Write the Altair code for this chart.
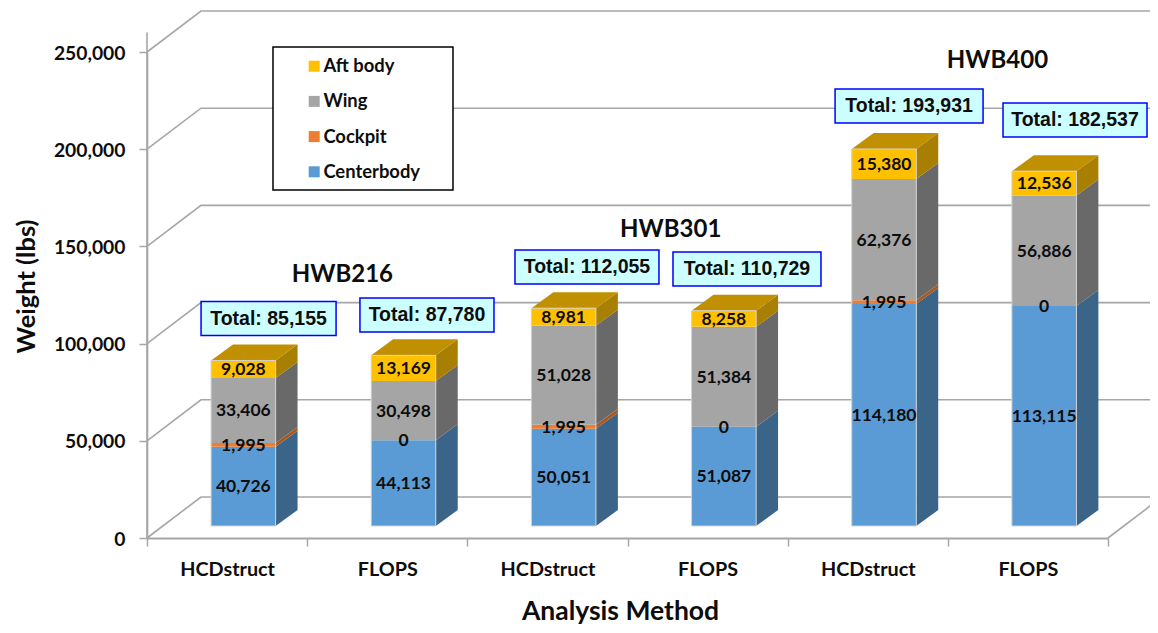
import altair as alt
import pandas as pd

methods = ["HCDstruct", "FLOPS", "HCDstruct", "FLOPS", "HCDstruct", "FLOPS"]
series = ["Centerbody", "Cockpit", "Wing", "Aft body"]
centerbody = [40726, 44113, 50051, 51087, 114180, 113115]
cockpit = [1995, 0, 1995, 0, 1995, 0]
wing = [33406, 30498, 51028, 51384, 62376, 56886]
aft_body = [9028, 13169, 8981, 8258, 15380, 12536]
totals = [85155, 87780, 112055, 110729, 193931, 182537]
group_names = ["HWB216", "HWB301", "HWB400"]
group_x = [1.22, 3.27, 5.31]
group_y = [135500, 158500, 245500]
box_x = [0.759, 1.748, 2.747, 3.746, 4.758, 5.794]
box_y = [112900, 114700, 139400, 138400, 222200, 215000]
box_w = [0.843, 0.837, 0.899, 0.924, 0.924, 0.899]

fill_front = ["#5b9bd5", "#ed7d31", "#a5a5a5", "#ffc000"]
fill_side = ["#3a6488", "#a65a22", "#696969", "#a87f00"]
fill_top = "#c09000"
grid_color = "#a6a6a6"
ink = "#0d0d0d"
face_font = "Lato"

# oblique projection, in data units
WALL_DX, WALL_DY = 0.337, 21090
BAR_DX, BAR_DY = 0.137, 8230
BAR_OFF_X, BAR_OFF_Y, BAR_W = 0.4, 6173, 0.403
BOX_H = 8750

xs = alt.Scale(domain=[0, 6], nice=False, zero=False)
ys = alt.Scale(domain=[0, 250000], nice=False, zero=False)

x_axis = alt.Axis(
    values=[k / 2 for k in range(13)],
    labelExpr="datum.value % 1 ? " + str(methods) + "[floor(datum.value)] : ''",
    labelFont=face_font, labelFontWeight="bold", labelFontSize=19.8, labelColor=ink,
    labelPadding=13, labelOverlap=False, labelFlush=False, labelAngle=0, grid=False,
    tickSize=8, tickColor=grid_color, tickWidth=1.5,
    tickOpacity={"condition": {"test": "datum.value % 1", "value": 0}, "value": 1},
    domainColor=grid_color, domainWidth=2,
    titleFont=face_font, titleFontWeight="bold", titleFontSize=26.5, titleColor=ink,
    titleX=473, titleY=81, titleBaseline="alphabetic")
y_axis = alt.Axis(
    values=list(range(0, 300000, 50000)),
    labelExpr="format(datum.value, ',')",
    labelFont=face_font, labelFontWeight="bold", labelFontSize=19.3, labelColor=ink,
    labelPadding=14, labelOffset=1, grid=False, tickSize=8, tickColor=grid_color, tickWidth=1.5,
    domainColor=grid_color, domainWidth=1.6,
    titleFont=face_font, titleFontWeight="bold", titleFontSize=25.5, titleColor=ink,
    titleX=-113, titleY=234, titleBaseline="alphabetic")

X = lambda f: alt.X(f, type="quantitative", scale=xs, axis=x_axis, title="Analysis Method")
Y = lambda f: alt.Y(f, type="quantitative", scale=ys, axis=y_axis, title="Weight (lbs)", stack=None)

fronts, sides, tops, labels, outlines = [], [], [], [], []
values = [centerbody, cockpit, wing, aft_body]
for i in range(6):
    x0 = i + BAR_OFF_X
    x1 = x0 + BAR_W
    base = 0
    for s, name in enumerate(series):
        v = values[s][i]
        lo = base + BAR_OFF_Y
        hi = lo + v
        labels.append({"x": (x0 + x1) / 2, "y": (lo + hi) / 2, "t": f"{v:,}"})
        if v > 0:
            fronts.append({"x": x0, "x2": x1, "y": lo, "y2": hi, "series": name})
            pid = f"{i}-{s}"
            sides.append({"id": pid, "x": x1, "y": lo, "y2": hi, "c": fill_side[s]})
            sides.append({"id": pid, "x": x1 + BAR_DX, "y": lo + BAR_DY, "y2": hi + BAR_DY, "c": fill_side[s]})
        base += v
    t = base + BAR_OFF_Y
    u = t + BAR_DY
    outlines.append({"x": x0, "x2": x1, "y": BAR_OFF_Y, "y2": t})
    for px, a, b in [(x0, t, t), (x0 + BAR_DX, t, u), (x1, t, u), (x1 + BAR_DX, u, u)]:
        tops.append({"id": i, "x": px, "y": a, "y2": b})

grid_rows = []
for v in range(0, 300000, 50000):
    grid_rows += [
        {"id": v, "x": 0, "y": v},
        {"id": v, "x": WALL_DX, "y": v + WALL_DY},
        {"id": v, "x": 6 + WALL_DX, "y": v + WALL_DY},
    ]
right_edge = [{"x": 6, "y": 0}, {"x": 6 + WALL_DX, "y": WALL_DY}]
spine = [{"x": 0, "y": 0}, {"x": 0, "y": 260000}]

grid = alt.Chart(pd.DataFrame(grid_rows)).mark_line(color=grid_color, strokeWidth=1.6).encode(
    x=X("x"), y=Y("y"), detail="id:N", order="x:Q")
edge = alt.Chart(pd.DataFrame(right_edge)).mark_line(color=grid_color, strokeWidth=1.6).encode(x=X("x"), y=Y("y"))
spine_l = alt.Chart(pd.DataFrame(spine)).mark_line(color=grid_color, strokeWidth=1.6).encode(x=X("x"), y=Y("y"))

legend_box = alt.Chart(pd.DataFrame([{"x": (273 - 147) / 160.17, "x2": (453 - 147) / 160.17,
                                      "y": (538 - 190) / 1.944 * 1000, "y2": (538 - 47) / 1.944 * 1000}])).mark_rect(
    fill="white", stroke="black", strokeWidth=1.5).encode(x=X("x"), x2="x2:Q", y=Y("y"), y2="y2:Q")

side = alt.Chart(pd.DataFrame(sides)).mark_area(opacity=1).encode(
    x=X("x"), y=Y("y"), y2="y2:Q", detail="id:N", color=alt.Color("c:N", scale=None, legend=None))
top = alt.Chart(pd.DataFrame(tops)).mark_area(color=fill_top).encode(
    x=X("x"), y=Y("y"), y2="y2:Q", detail="id:N")
front = alt.Chart(pd.DataFrame(fronts)).mark_rect().encode(
    x=X("x"), x2="x2:Q", y=Y("y"), y2="y2:Q",
    color=alt.Color("series:N",
                    scale=alt.Scale(domain=series[::-1], range=fill_front[::-1]),
                    legend=alt.Legend(title=None, orient="none", legendX=158, legendY=5,
                                      symbolType="square", symbolSize=121, symbolStrokeWidth=0,
                                      rowPadding=16.2, labelFont=face_font, labelFontWeight="bold",
                                      labelFontSize=18.4, labelColor=ink, labelOffset=0, padding=0)))
outline = alt.Chart(pd.DataFrame(outlines)).mark_rect(filled=False, stroke="#d2d2d2", strokeWidth=1).encode(
    x=X("x"), x2="x2:Q", y=Y("y"), y2="y2:Q")
seg_text = alt.Chart(pd.DataFrame(labels)).mark_text(
    font=face_font, fontWeight="bold", fontSize=17.5, color=ink, baseline="middle", align="center", dy=1).encode(
    x=X("x"), y=Y("y"), text="t:N")

box_rows = [{"x": bx - w / 2, "x2": bx + w / 2, "y": by - BOX_H, "y2": by + BOX_H, "cx": bx, "cy": by,
             "t": f"Total: {t:,}"} for bx, by, w, t in zip(box_x, box_y, box_w, totals)]
boxes = alt.Chart(pd.DataFrame(box_rows)).mark_rect(fill="#ccffff", stroke="#0000ff", strokeWidth=1.5).encode(
    x=X("x"), x2="x2:Q", y=Y("y"), y2="y2:Q")
box_text = alt.Chart(pd.DataFrame(box_rows)).mark_text(
    font="Liberation Sans", fontWeight="bold", fontSize=19.5, color=ink, baseline="middle", align="center").encode(
    x=X("cx"), y=Y("cy"), text="t:N")
group_text = alt.Chart(pd.DataFrame({"x": group_x, "y": group_y, "t": group_names})).mark_text(
    font=face_font, fontWeight="bold", fontSize=24, color=ink, baseline="middle", align="center").encode(
    x=X("x"), y=Y("y"), text="t:N")

chart = alt.layer(
    grid, edge, spine_l, legend_box, side, top, front, outline, seg_text, boxes, box_text, group_text
).resolve_scale(color="independent").properties(
    width=961, height=486,
    padding={"left": 139, "top": 44, "right": 42, "bottom": 87},
    autosize=alt.AutoSizeParams(type="none"),
    background="white",
).configure_view(stroke=None)

chart.save("out.html", embed_options={"renderer": "svg", "actions": False})
